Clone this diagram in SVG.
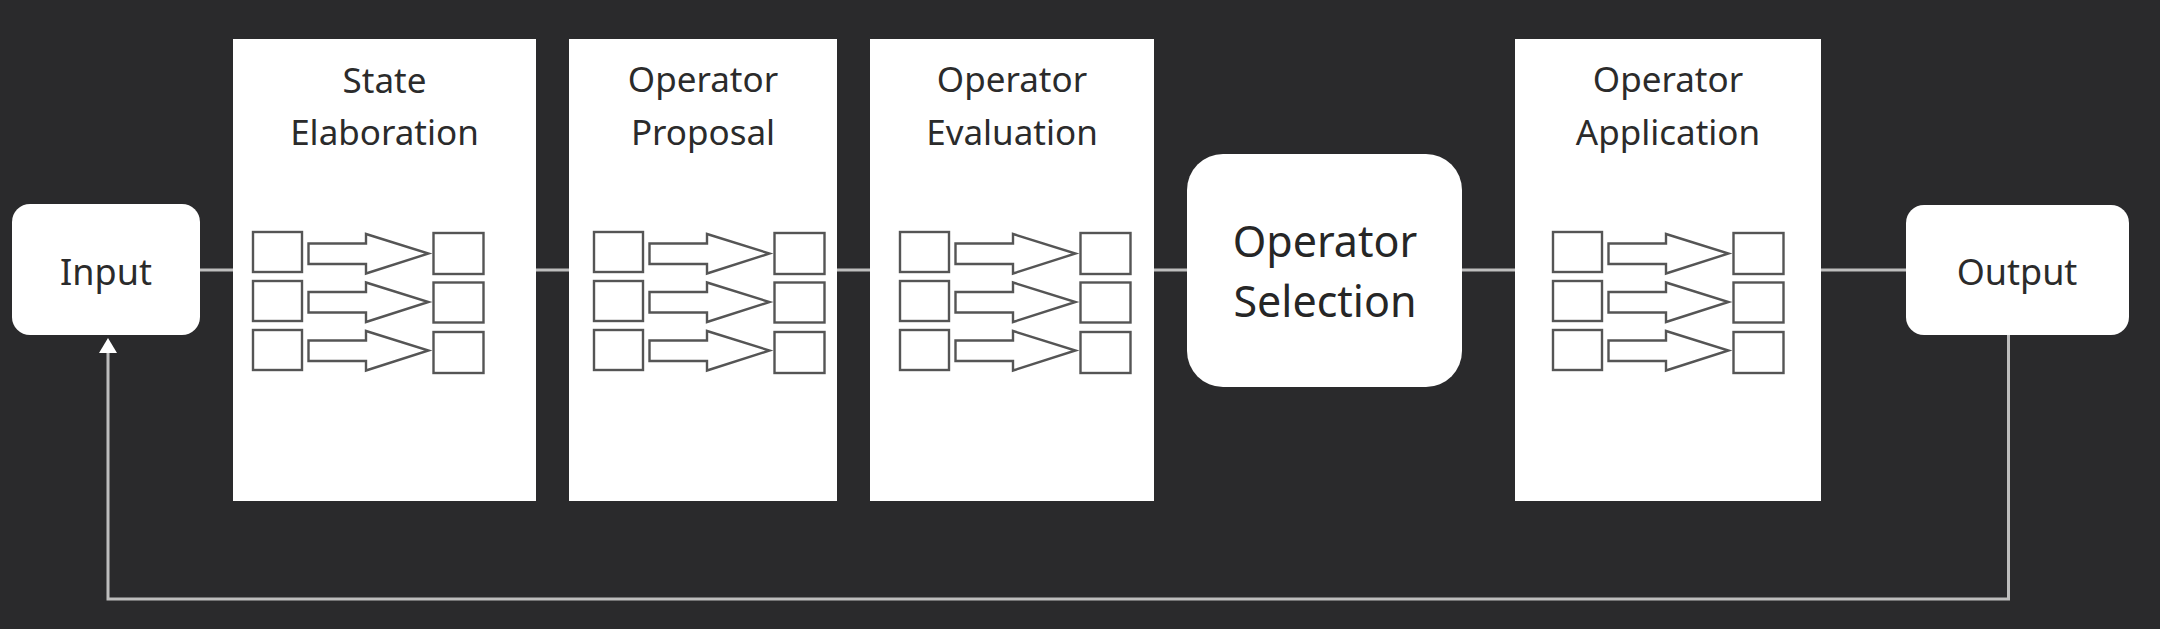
<svg xmlns="http://www.w3.org/2000/svg" xmlns:xlink="http://www.w3.org/1999/xlink" width="2160" height="629" viewBox="0 0 2160 629">
<style>
.bg{fill:#2a2a2c}
.panel{fill:#ffffff}
.term{fill:#ffffff}
.lbl{font-family:"Noto Sans","Open Sans","DejaVu Sans",sans-serif;font-size:35px;fill:#2b2b2b;text-anchor:middle}
.lbl-lg{font-family:"Noto Sans","Open Sans","DejaVu Sans",sans-serif;font-size:43px;fill:#262626;text-anchor:middle}
.cell{fill:#ffffff;stroke:#555555;stroke-width:2.4}
.conn{fill:none;stroke:#bdbdbd;stroke-width:3}
.head{fill:#ffffff}
</style>
<defs>
<g id="rules">
<rect class="cell" x="0" y="0" width="49" height="40"/>
<rect class="cell" x="0" y="49" width="49" height="40"/>
<rect class="cell" x="0" y="98" width="49" height="40"/>
<path class="cell" d="M55.5,11.5 H113 V2 L175.5,21.5 L113,41.5 V32 H55.5 Z"/>
<path class="cell" d="M55.5,60 H113 V50.5 L175.5,70 L113,90 V80.5 H55.5 Z"/>
<path class="cell" d="M55.5,108.5 H113 V99 L175.5,118.5 L113,138.5 V129 H55.5 Z"/>
<rect class="cell" x="180.5" y="1" width="50" height="41"/>
<rect class="cell" x="180.5" y="50.5" width="50" height="40"/>
<rect class="cell" x="180.5" y="100" width="50" height="41"/>
</g>
</defs>
<rect class="bg" x="0" y="0" width="2160" height="629"/>

<g id="connectors">
<line class="conn" x1="200" y1="270" x2="233" y2="270"/>
<line class="conn" x1="536" y1="270" x2="569" y2="270"/>
<line class="conn" x1="837" y1="270" x2="870" y2="270"/>
<line class="conn" x1="1154" y1="270" x2="1187" y2="270"/>
<line class="conn" x1="1462" y1="270" x2="1515" y2="270"/>
<line class="conn" x1="1821" y1="270" x2="1906" y2="270"/>
<polyline class="conn" points="2008.5,335 2008.5,599 108,599 108,352"/>
<polygon class="head" points="108,338 99,353 117,353"/>
</g>

<g id="input">
<rect class="term" x="12" y="204" width="188" height="131" rx="18" ry="18"/>
<text class="lbl" x="106" y="285" style="font-size:36px">Input</text>
</g>

<g id="state-elaboration">
<rect class="panel" x="233" y="39" width="303" height="462"/>
<text class="lbl" x="384.5" y="93">State</text>
<text class="lbl" x="384.5" y="145">Elaboration</text>
<use xlink:href="#rules" href="#rules" x="253" y="232"/>
</g>

<g id="operator-proposal">
<rect class="panel" x="569" y="39" width="268" height="462"/>
<text class="lbl" x="703" y="92">Operator</text>
<text class="lbl" x="703" y="145">Proposal</text>
<use xlink:href="#rules" href="#rules" x="594" y="232"/>
</g>

<g id="operator-evaluation">
<rect class="panel" x="870" y="39" width="284" height="462"/>
<text class="lbl" x="1012" y="92">Operator</text>
<text class="lbl" x="1012" y="145">Evaluation</text>
<use xlink:href="#rules" href="#rules" x="900" y="232"/>
</g>

<g id="operator-selection">
<rect class="term" x="1187" y="154" width="275" height="233" rx="36" ry="36"/>
<text class="lbl-lg" x="1325" y="257">Operator</text>
<text class="lbl-lg" x="1325" y="317">Selection</text>
</g>

<g id="operator-application">
<rect class="panel" x="1515" y="39" width="306" height="462"/>
<text class="lbl" x="1668" y="92">Operator</text>
<text class="lbl" x="1668" y="145">Application</text>
<use xlink:href="#rules" href="#rules" x="1553" y="232"/>
</g>

<g id="output">
<rect class="term" x="1906" y="205" width="223" height="130" rx="18" ry="18"/>
<text class="lbl" x="2017" y="285" style="font-size:36px">Output</text>
</g>
</svg>
